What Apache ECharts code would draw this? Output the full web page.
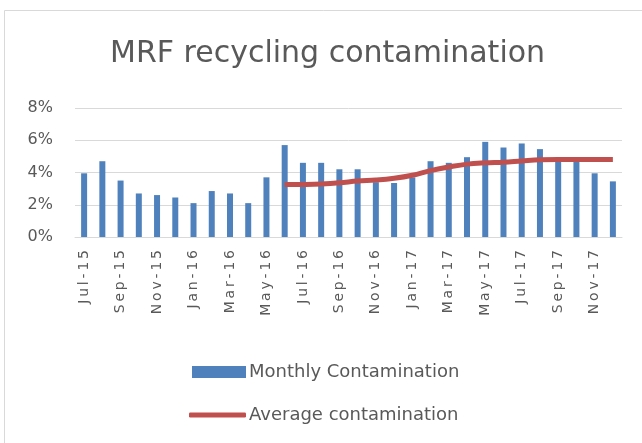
<!DOCTYPE html>
<html>
<head>
<meta charset="utf-8">
<script src="https://cdn.jsdelivr.net/npm/echarts@6/dist/echarts.min.js"></script>
<style>
  html, body { margin: 0; padding: 0; background: #fff; }
  #main { width: 642px; height: 443px; }
</style>
</head>
<body>
<div id="main"></div>
<script>
// months Jul-15 .. Dec-17
var months = ['Jul-15', 'Aug-15', 'Sep-15', 'Oct-15', 'Nov-15', 'Dec-15',
  'Jan-16', 'Feb-16', 'Mar-16', 'Apr-16', 'May-16', 'Jun-16',
  'Jul-16', 'Aug-16', 'Sep-16', 'Oct-16', 'Nov-16', 'Dec-16',
  'Jan-17', 'Feb-17', 'Mar-17', 'Apr-17', 'May-17', 'Jun-17',
  'Jul-17', 'Aug-17', 'Sep-17', 'Oct-17', 'Nov-17', 'Dec-17'];

// monthly contamination, %
var monthly = [3.95, 4.7, 3.5, 2.7, 2.6, 2.45, 2.1, 2.85, 2.7, 2.1, 3.7, 5.7,
  4.6, 4.6, 4.2, 4.2, 3.4, 3.35, 3.7, 4.7, 4.6, 4.95, 5.9, 5.55,
  5.8, 5.45, 4.75, 4.75, 3.95, 3.45];

// running average, starts Jun-16
var average = [null, null, null, null, null, null, null, null, null, null, null, 3.25,
  3.26, 3.29, 3.36, 3.47, 3.53, 3.64, 3.83, 4.12, 4.34, 4.52, 4.6, 4.64,
  4.72, 4.79, 4.8, 4.8, 4.8, 4.8];

var yTicks = [0, 2, 4, 6, 8];

var font = 'DejaVu Sans';
var grey = '#595959';

var chart = echarts.init(document.getElementById('main'));

// spread the letters a little, like the Excel rendering
function spaced(s) {
  return s.split('').join('\u2009');
}

var option = {
  animation: false,
  backgroundColor: '#fff',
  textStyle: { fontFamily: font },
  title: {
    text: 'MRF recycling contamination',
    left: 105,
    top: 34,
    textStyle: { fontSize: 30, fontWeight: 'normal', color: grey, fontFamily: font }
  },
  graphic: [{
    type: 'rect',
    shape: { x: 4.5, y: 10.5, width: 700, height: 500 },
    style: { fill: 'none', stroke: '#d9d9d9', lineWidth: 1 },
    silent: true
  }],
  legend: [{
    left: 187,
    top: 358,
    itemWidth: 54,
    itemHeight: 12,
    itemGap: 4,
    textStyle: { fontSize: 18, color: grey, padding: [0, 0, 0, -2] },
    data: [{ name: 'Monthly Contamination', icon: 'rect' }]
  }, {
    left: 184,
    top: 401,
    itemWidth: 57,
    itemHeight: 5,
    textStyle: { fontSize: 18, color: grey, padding: [0, 0, 0, -2] },
    data: [{ name: 'Average contamination', icon: 'roundRect' }]
  }],
  grid: {
    left: 75,
    right: 20,
    top: 108,
    bottom: 206
  },
  xAxis: {
    type: 'category',
    data: months,
    axisLine: { lineStyle: { color: '#d9d9d9' } },
    axisTick: { interval: 1, length: 6, lineStyle: { color: '#d9d9d9' } },
    axisLabel: {
      interval: 1,
      rotate: 90,
      color: grey,
      fontSize: 14,
      margin: 13,
      formatter: spaced
    }
  },
  yAxis: {
    type: 'value',
    min: yTicks[0],
    max: yTicks[yTicks.length - 1],
    interval: 2,
    axisLine: { show: false },
    axisTick: { show: false },
    axisLabel: { formatter: '{value}%', color: grey, fontSize: 16, margin: 22 },
    splitLine: { lineStyle: { color: '#d9d9d9' } }
  },
  series: [{
    name: 'Monthly Contamination',
    type: 'bar',
    data: monthly,
    barWidth: 6,
    itemStyle: { color: '#4f81bd' }
  }, {
    name: 'Average contamination',
    type: 'line',
    data: average,
    smooth: 0.4,
    symbol: 'none',
    lineStyle: { color: '#c0504d', width: 5 },
    itemStyle: { color: '#c0504d' }
  }]
};

chart.setOption(option);
</script>
</body>
</html>
